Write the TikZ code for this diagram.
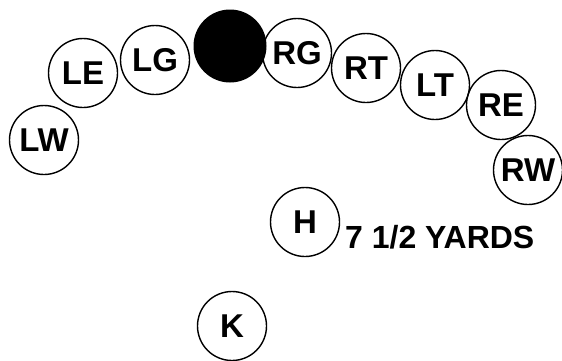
\documentclass[tikz,border=0pt]{standalone}
\usepackage{fontspec}
\setmainfont{Liberation Sans}
\begin{document}
\begin{tikzpicture}[x=1pt,y=1pt,
  player/.style={circle,draw=black,line width=1.4pt,minimum size=69pt,inner sep=0pt,
    font=\fontsize{33}{33}\selectfont\bfseries},
  ballstyle/.style={circle,fill=black,minimum size=73pt,inner sep=0pt},
  lbl/.style={font=\fontsize{32}{32}\selectfont\bfseries,inner sep=0pt,anchor=base west}]
\useasboundingbox (0,0) rectangle (562,360);
\node[player] (LW) at (44,220) {LW};
\node[player] (LE) at (83,287) {LE};
\node[player] (LG) at (155,300) {LG};
\node[ballstyle] (ball) at (230,314) {};
\node[player] (RG) at (297,307) {RG};
\node[player] (RT) at (366,292) {RT};
\node[player] (LT) at (435,275) {LT};
\node[player] (RE) at (501,255) {RE};
\node[player] (RW) at (528,190) {RW};
\node[player] (H) at (305,138) {H};
\node[lbl] (yards) at (345,112) {7 1/2 YARDS};
\node[player] (K) at (232,34) {K};
\end{tikzpicture}
\end{document}
